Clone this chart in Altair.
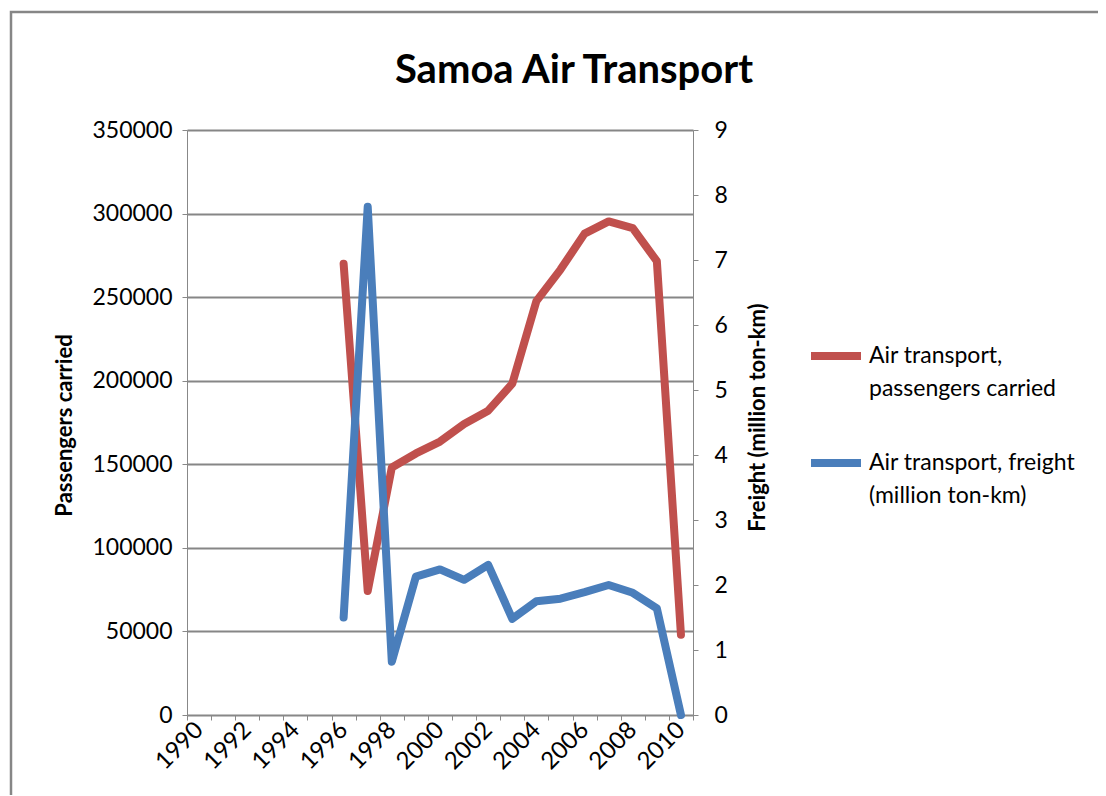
import altair as alt
import pandas as pd

# ---- data ----
years = [str(y) for y in range(1990, 2011)]
data_years = [str(y) for y in range(1996, 2011)]
passengers = [270000, 74200, 148100, 156500, 163600, 174100, 182100, 198300,
              247600, 266500, 288000, 295300, 291300, 271500, 48000]
freight = [1.50, 7.82, 0.82, 2.13, 2.24, 2.08, 2.31, 1.48,
           1.75, 1.79, 1.89, 2.00, 1.88, 1.64, 0.00]
series_names = ["Air transport, passengers carried",
                "Air transport, freight (million ton-km)"]
legend_lines = [["Air transport,", "passengers carried"],
                ["Air transport, freight", "(million ton-km)"]]
colors = ["#C0504D", "#4A7EBB"]
left_ticks = [0, 50000, 100000, 150000, 200000, 250000, 300000, 350000]
right_ticks = list(range(0, 10))

df_p = pd.DataFrame({"year": data_years, "value": passengers, "series": series_names[0]})
df_f = pd.DataFrame({"year": data_years, "value": freight, "series": series_names[1]})

GRAY = "#868686"
FONT = "Lato"

label_expr = ("datum.label == '%s' ? ['%s', '%s'] : ['%s', '%s']" % (
    series_names[0], legend_lines[0][0], legend_lines[0][1],
    legend_lines[1][0], legend_lines[1][1]))

x_enc = alt.X(
    "year:O",
    scale=alt.Scale(domain=years, type="band", paddingInner=0, paddingOuter=0),
    axis=alt.Axis(title=None, labelAngle=-45, labelAlign="right", labelBaseline="middle",
                  labelExpr="toNumber(datum.value) % 2 == 0 ? datum.value : ''",
                  labelOverlap=False, tickBand="extent", grid=False,
                  labelFontSize=24, labelFont=FONT, labelColor="#000000", labelPadding=6),
)

color_enc = alt.Color(
    "series:N",
    scale=alt.Scale(domain=series_names, range=colors),
    legend=alt.Legend(orient="none", legendX=620, legendY=197, title=None,
                      symbolType="stroke", symbolSize=2500, symbolStrokeWidth=8,
                      labelFontSize=23, labelFont=FONT, labelColor="#000000",
                      labelLimit=400, labelExpr=label_expr, rowPadding=33,
                      labelBaseline="middle", labelOffset=4),
)

frame = alt.Chart(pd.DataFrame({"a": [0]})).mark_rect(
    fill=None, stroke=GRAY, strokeWidth=2.5
).encode(x=alt.value(-176), y=alt.value(-118), x2=alt.value(1200), y2=alt.value(900))

line_p = alt.Chart(df_p).mark_line(strokeWidth=8, strokeCap="round", strokeJoin="round").encode(
    x=x_enc,
    y=alt.Y("value:Q", scale=alt.Scale(domain=[0, 350000], nice=False, zero=True),
            axis=alt.Axis(orient="left", values=left_ticks, format="d",
                          title="Passengers carried", titleX=-123, titleY=295,
                          titleAngle=270, titleAlign="center", titleBaseline="middle",
                          titleFontSize=22, titleFont=FONT, titleFontWeight="bold",
                          labelFontSize=23, labelFont=FONT, labelColor="#000000",
                          labelPadding=10, grid=True, gridColor=GRAY, gridWidth=2)),
    color=color_enc,
)

line_f = alt.Chart(df_f).mark_line(strokeWidth=8, strokeCap="round", strokeJoin="round").encode(
    x=x_enc,
    y=alt.Y("value:Q", scale=alt.Scale(domain=[0, 9], nice=False, zero=True),
            axis=alt.Axis(orient="right", values=right_ticks, format="d",
                          title="Freight (million ton-km)", titleX=64, titleY=287,
                          titleAngle=270, titleAlign="center", titleBaseline="middle",
                          titleFontSize=22, titleFont=FONT, titleFontWeight="bold",
                          labelFontSize=23, labelFont=FONT, labelColor="#000000",
                          labelPadding=16, grid=False)),
    color=color_enc,
)

chart = alt.layer(frame, line_p, line_f).resolve_scale(y="independent").properties(
    width=506, height=585,
    title=alt.TitleParams("Samoa Air Transport", fontSize=40, font=FONT, fontWeight="bold",
                          anchor="middle", dx=134, dy=156, offset=44, baseline="alphabetic",
                          color="#000000"),
    autosize=alt.AutoSizeParams(type="none"),
    padding={"left": 179, "top": 122, "right": 405, "bottom": 80},
).configure_view(stroke=None).configure_axis(
    domainColor=GRAY, domainWidth=2, tickColor=GRAY, tickWidth=2, tickSize=7
).configure(style={"guide-label": {"lineHeight": 33}})

chart.save("out.html", embed_options={"renderer": "svg", "actions": False})
